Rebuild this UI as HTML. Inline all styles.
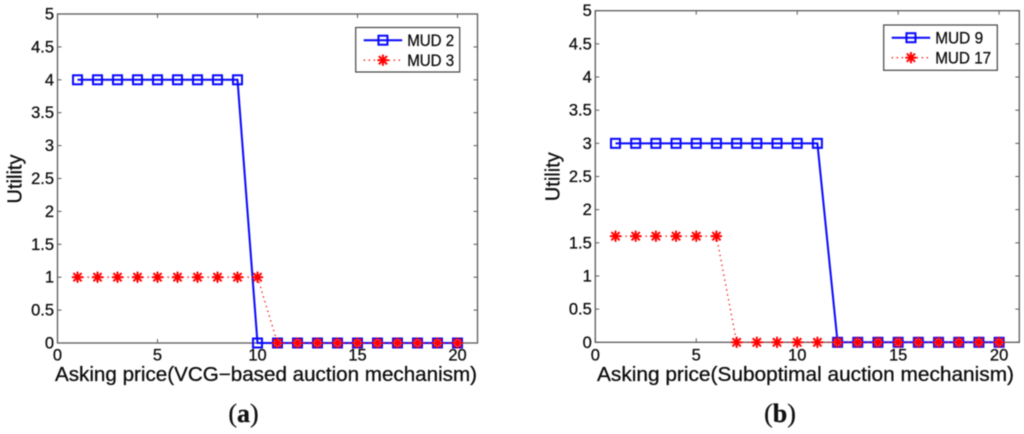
<!DOCTYPE html>
<html>
<head>
<meta charset="utf-8">
<style>
html,body{margin:0;padding:0;background:#fff;width:1024px;height:434px;overflow:hidden}
svg{display:block;filter:blur(0.4px)}
text{font-family:"Liberation Sans",sans-serif;fill:#0c0c0c;stroke:#0c0c0c;stroke-width:0.28px}
.cap{font-family:"Liberation Serif",serif;font-size:26px;fill:#111}
</style>
</head>
<body>
<svg id="figure" width="1024" height="434" viewBox="0 0 1024 434" xmlns="http://www.w3.org/2000/svg">
  <g id="panel-a"></g>
  <g id="panel-b"></g>
  <text class="cap" x="243.500" y="422" text-anchor="middle">(<tspan font-weight="bold">a</tspan>)</text>
  <text class="cap" x="780" y="422" text-anchor="middle">(<tspan font-weight="bold">b</tspan>)</text>
</svg>
<script>
const askingPrices = [1,2,3,4,5,6,7,8,9,10,11,12,13,14,15,16,17,18,19,20];
const xTickValues = [0,5,10,15,20];
const yTickValues = [0,0.5,1,1.5,2,2.5,3,3.5,4,4.5,5];
const mud2Utility = [4,4,4,4,4,4,4,4,4,0,0,0,0,0,0,0,0,0,0,0];
const mud3Utility = [1,1,1,1,1,1,1,1,1,1,0,0,0,0,0,0,0,0,0,0];
const mud9Utility = [3,3,3,3,3,3,3,3,3,3,3,0,0,0,0,0,0,0,0,0];
const mud17Utility = [1.6,1.6,1.6,1.6,1.6,1.6,0,0,0,0,0,0,0,0,0,0,0,0,0,0];
const panelASeriesNames = ["MUD 2","MUD 3"];
const panelBSeriesNames = ["MUD 9","MUD 17"];

const NS = "http://www.w3.org/2000/svg";
const BLUE = "#0808ff";
const RED = "#ff0000";
const AXIS = "#5a5a5a";

function make(parent, tag, attrs, name, text) {
  const node = document.createElementNS(NS, tag);
  for (const k in attrs) node.setAttribute(k, attrs[k]);
  
  
  if (text !== undefined) node.textContent = text;
  parent.appendChild(node);
  return node;
}

function square(parent, cx, cy, name) {
  make(parent, "rect", {x:cx-4.5, y:cy-4.5, width:9, height:9, fill:"none", stroke:BLUE, "stroke-width":2}, name);
}

function star(parent, cx, cy, name) {
  const g = make(parent, "g", {stroke:RED, "stroke-width":2, fill:"none"}, name);
  const r = 5.6, d = 4.1;
  make(g, "line", {x1:cx-r, y1:cy, x2:cx+r, y2:cy}, "star-arm");
  make(g, "line", {x1:cx, y1:cy-r, x2:cx, y2:cy+r}, "star-arm");
  make(g, "line", {x1:cx-d, y1:cy-d, x2:cx+d, y2:cy+d}, "star-arm");
  make(g, "line", {x1:cx-d, y1:cy+d, x2:cx+d, y2:cy-d}, "star-arm");
}

function drawPanel(cfg) {
  const root = document.getElementById(cfg.id);
  const sx = v => cfg.left + (cfg.right - cfg.left) * v / 21;
  const sy = v => cfg.bottom - (cfg.bottom - cfg.top) * v / 5;

  make(root, "rect", {x:cfg.left, y:cfg.top, width:cfg.right-cfg.left, height:cfg.bottom-cfg.top, fill:"#fff", stroke:AXIS, "stroke-width":1.3}, "plot-frame");

  xTickValues.forEach(v => {
    const x = sx(v);
    make(root, "line", {x1:x, y1:cfg.bottom, x2:x, y2:cfg.bottom-4, stroke:AXIS, "stroke-width":1}, "x-tick-mark");
    make(root, "line", {x1:x, y1:cfg.top, x2:x, y2:cfg.top+4, stroke:AXIS, "stroke-width":1}, "x-tick-mark-top");
    make(root, "text", {x:x, y:360.500, "text-anchor":"middle", "font-size":16.500}, "x-tick-label", String(v));
  });
  yTickValues.forEach(v => {
    const y = sy(v);
    make(root, "line", {x1:cfg.left, y1:y, x2:cfg.left+4, y2:y, stroke:AXIS, "stroke-width":1}, "y-tick-mark");
    make(root, "line", {x1:cfg.right, y1:y, x2:cfg.right-4, y2:y, stroke:AXIS, "stroke-width":1}, "y-tick-mark-right");
    make(root, "text", {x:cfg.left-3.5, y:y+5.5, "text-anchor":"end", "font-size":16.500}, "y-tick-label", String(v));
  });

  make(root, "text", {x:cfg.xLabelX, y:381, "font-size":20, textLength:cfg.xLabelLen, lengthAdjust:"spacingAndGlyphs"}, "x-axis-title", cfg.xLabel);
  make(root, "text", {transform:"translate(" + cfg.yLabelX + "," + cfg.yLabelY + ") rotate(-90)", "text-anchor":"middle", "font-size":20}, "y-axis-title", "Utility");

  const pts = vals => askingPrices.map((p,i) => sx(p) + "," + sy(vals[i])).join(" ");
  make(root, "polyline", {points:pts(cfg.blue), fill:"none", stroke:BLUE, "stroke-width":2}, "blue-series-line");
  make(root, "polyline", {points:pts(cfg.red), fill:"none", stroke:RED, "stroke-width":1.3, "stroke-dasharray":"1.3 3.7"}, "red-series-line");
  askingPrices.forEach((p,i) => square(root, sx(p), sy(cfg.blue[i]), "blue-series-marker"));
  askingPrices.forEach((p,i) => star(root, sx(p), sy(cfg.red[i]), "red-series-marker"));

  const lg = make(root, "g", {}, "legend");
  make(lg, "rect", {x:cfg.lg.x, y:cfg.lg.y, width:cfg.lg.w, height:cfg.lg.h, fill:"#fff", stroke:"#444", "stroke-width":1.2}, "legend-box");
  const x1 = cfg.lg.x + 8, x2 = x1 + 38.500, xm = (x1 + x2) / 2;
  const r1 = cfg.lg.y + 12.700, r2 = cfg.lg.y + 32.700;
  make(lg, "line", {x1:x1, y1:r1, x2:x2, y2:r1, stroke:BLUE, "stroke-width":2}, "legend-line-blue");
  square(lg, xm, r1, "legend-marker-blue");
  make(lg, "line", {x1:x1, y1:r2, x2:x2, y2:r2, stroke:RED, "stroke-width":1.3, "stroke-dasharray":"1.3 3.7"}, "legend-line-red");
  star(lg, xm, r2, "legend-marker-red");
  make(lg, "text", {x:x2+5, y:r1+6, "font-size":17, textLength:cfg.lg.len1, lengthAdjust:"spacingAndGlyphs"}, "legend-label-blue", cfg.names[0]);
  make(lg, "text", {x:x2+5, y:r2+6, "font-size":17, textLength:cfg.lg.len2, lengthAdjust:"spacingAndGlyphs"}, "legend-label-red", cfg.names[1]);
}

drawPanel({id:"panel-a", left:57.500, right:477.500, top:14, bottom:343,
  blue:mud2Utility, red:mud3Utility, names:panelASeriesNames,
  xLabel:"Asking price(VCG\u2212based auction mechanism)", xLabelX:55, xLabelLen:422,
  yLabelX:21.700, yLabelY:179,
  lg:{x:355.700, y:27.500, w:104, h:44.500, len1:47, len2:47}});

drawPanel({id:"panel-b", left:595.300, right:1019.300, top:10.700, bottom:342.300,
  blue:mud9Utility, red:mud17Utility, names:panelBSeriesNames,
  xLabel:"Asking price(Suboptimal auction mechanism)", xLabelX:597, xLabelLen:417,
  yLabelX:559.700, yLabelY:176.700,
  lg:{x:883.700, y:25, w:113.600, h:45.300, len1:48, len2:56}});
</script>
</body>
</html>
